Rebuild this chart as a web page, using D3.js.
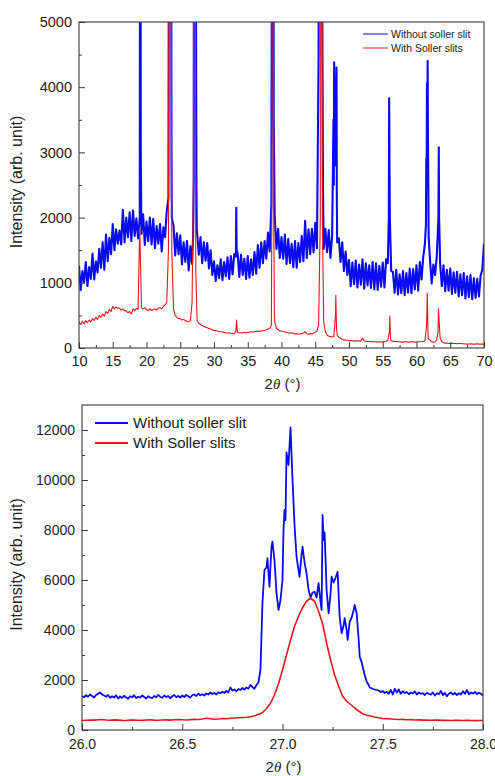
<!DOCTYPE html>
<html><head><meta charset="utf-8">
<script src="https://cdn.jsdelivr.net/npm/d3@7"></script>
<style>body{margin:0;background:#fff}</style>
</head><body><svg id="c" width="495" height="776"></svg>
<script>
// ---------------- DATA ----------------
const seriesNames = ["Without soller slit", "With Soller slits"];

// Top panel: full scan, grid start/step in 2θ (°)
const topStart = 10, topStep = 0.25;
const topBlue = [
 1260, 890, 1180, 1010, 1320, 950, 1240, 1060, 1450, 1050, 1330, 1160, 1520, 1230, 1620, 1200,
 1740, 1330, 1690, 1440, 1900, 1500, 1820, 1600, 1800, 1590, 2120, 1620, 2000, 1700, 2080, 1640,
 2110, 1720, 1990, 1680, 2000, 1750, 2050, 1580, 1940, 1640, 2000, 1590, 1980, 1530, 1870, 1600,
 1900, 1480, 1850, 1700, 2100, 2300, 30000, 2000, 1880, 1420, 1760, 1440, 1730, 1280, 1620, 1320,
 1640, 1190, 1560, 1290, 2600, 6000, 1760, 1430, 1700, 1300, 1620, 1340, 1610, 1220, 1500, 1120,
 1330, 1030, 1270, 1070, 1360, 1040, 1320, 1100, 1390, 1060, 1410, 1130, 1440, 1400, 1460, 1090,
 1430, 1120, 1370, 1060, 1410, 1080, 1360, 1120, 1470, 1140, 1580, 1230, 1620, 1300, 1640, 1370,
 1770, 1480, 2200, 15000, 2000, 1520, 1830, 1380, 1700, 1370, 1740, 1290, 1670, 1300, 1600, 1240,
 1640, 1230, 1610, 1320, 1720, 1330, 1950, 1380, 1820, 1440, 1830, 1470, 1920, 1530, 4500, 12000,
 8000, 1520, 1830, 1470, 1810, 1380, 1720, 2500, 3000, 1620, 1680, 1320, 1620, 1180, 1480, 1120,
 1350, 950, 1310, 980, 1340, 930, 1280, 970, 1360, 910, 1300, 960, 1270, 920, 1320, 900,
 1300, 890, 1260, 940, 1310, 930, 1360, 1300, 2800, 1180, 1170, 850, 1200, 820, 1130, 840,
 1180, 810, 1150, 850, 1220, 840, 1210, 900, 1270, 880, 1320, 1050, 1400, 1600, 2500, 2500,
 1360, 990, 1280, 1120, 1400, 2000, 1300, 950, 1270, 870, 1200, 880, 1220, 830, 1160, 850,
 1170, 790, 1130, 810, 1150, 760, 1100, 780, 1120, 750, 1070, 770, 1060, 790, 1110, 1200,
 1600
];
const topBlueExtra = [
 [19.05, 8000], [19.1, 9000], [19.15, 3000],
 [23.35, 9000], [23.4, 16000], [23.6, 16000], [23.65, 9000], [23.7, 3000],
 [26.9, 1700], [27.05, 12000], [27.1, 7000], [27.15, 8000], [27.2, 8600], [27.3, 6000], [27.35, 4500], [27.4, 2500], [27.45, 1800],
 [33.3, 2150], [33.35, 1500],
 [38.55, 5000], [38.65, 20000], [38.85, 3500],
 [45.6, 20000], [45.9, 20000], [46.05, 5000], [46.15, 2400],
 [47.6, 2600], [47.7, 3500], [47.8, 4380], [47.9, 2800], [48.05, 3200], [48.15, 4300], [48.2, 2200],
 [55.9, 2000], [55.95, 3830], [56.05, 2000],
 [61.4, 1900], [61.45, 2900], [61.55, 4060], [61.6, 3000], [61.65, 4400], [61.7, 3200], [61.8, 1700],
 [63.3, 3080], [63.35, 2000]
];
const topRed = [
 400, 360, 410, 370,  420, 390, 430, 400,  450, 420, 470, 440,  500, 470, 520, 490,
 560, 530, 590, 560,  640, 600, 630, 610,  610, 580, 600, 570,  570, 540, 560, 520,
 600, 570, 610, 590,  1850, 620, 600, 620, 590, 570, 600, 575,  590, 600, 580, 610,
 620, 600, 640, 660,  700, 1500, 20000, 1500, 600, 500, 470, 450, 450, 430, 440, 420,
 410, 400, 420, 700,  20000, 5000, 420, 380, 360, 340, 330, 320,  310, 300, 290, 280,
 270, 265, 260, 250,  250, 245, 240, 235,  230, 235, 225, 220,  220, 260, 240, 235,
 230, 235, 240, 230,  240, 245, 250, 245,  250, 255, 260, 255,  260, 265, 270, 280,
 290, 300, 350, 20000, 400, 300, 280, 260, 260, 250, 245, 240,  230, 235, 225, 230,
 215, 220, 210, 215,  220, 230, 250, 220,  210, 220, 215, 225,  240, 260, 350, 2000,
 8000, 400, 250, 200, 180, 175, 170, 180,  500, 200, 160, 150,  130, 125, 120, 120,
 110, 115, 110, 105,  105, 110, 110, 105,  150, 110, 100, 100,  100, 95, 100, 95,
 95, 90, 95, 90,      95, 100, 100, 120,   250, 110, 105, 100,  100, 95, 95, 90,
 90, 95, 95, 90,      90, 95, 95, 90,      90, 95, 95, 100,    100, 110, 350, 140,
 120, 100, 90, 95,    120, 600, 150, 100,  80, 75, 75, 70,     70, 72, 70, 68,
 65, 70, 68, 65,      65, 62, 60, 62,      65, 60, 62, 60,     65, 60, 62, 60,
 60
];
const topRedExtra = [
 [23.35, 8000], [23.4, 20000], [23.6, 20000], [23.65, 6000],
 [26.95, 2500], [27.2, 15000], [27.3, 1200],
 [33.35, 430], [33.45, 250],
 [38.6, 3000], [38.65, 20000], [38.85, 2000], [38.95, 500],
 [45.8, 20000], [45.95, 20000], [46.05, 2000],
 [48.05, 810], [48.15, 300],
 [56.05, 490], [56.15, 150],
 [61.6, 840], [61.7, 250],
 [63.2, 250]
];

// Bottom panel: zoom on the 27° reflection
const zoomBlueLeftStart = 26.00, zoomBlueStep = 0.01;
const zoomBlueLeft = [
 1360, 1310, 1390, 1330, 1420, 1360, 1300, 1400, 1450, 1500,
 1420, 1380, 1330, 1400, 1290, 1350, 1300, 1380, 1260, 1340,
 1280, 1370, 1300, 1250, 1350, 1310, 1390, 1280, 1330, 1300,
 1380, 1320, 1260, 1350, 1300, 1270, 1360, 1310, 1400, 1330,
 1290, 1380, 1320, 1360, 1270, 1350, 1400, 1310, 1360, 1300,
 1380, 1320, 1400, 1350, 1300, 1390, 1420, 1360, 1450, 1390,
 1430, 1380, 1460, 1420, 1500, 1440, 1480, 1420, 1510, 1470,
 1530, 1480, 1560, 1500, 1700, 1580, 1620, 1550, 1640, 1600,
 1680, 1620, 1700, 1650, 1800, 1720, 1650, 1800
];
const zoomBluePeak = [
 [26.88,1900],[26.89,2400],[26.90,5070],[26.91,6400],[26.92,6500],[26.925,6870],[26.935,5730],[26.945,7300],
 [26.95,7530],[26.96,6800],[26.97,5500],[26.98,4800],[26.99,5200],[27.00,6000],[27.005,8000],[27.01,8800],
 [27.015,8400],[27.02,11100],[27.03,10600],[27.04,12100],[27.05,10000],[27.06,8200],[27.07,6930],[27.08,6400],
 [27.085,6130],[27.095,7000],[27.10,7330],[27.11,6700],[27.12,6270],[27.13,5600],[27.14,5300],[27.15,5500],
 [27.16,5530],[27.17,5300],[27.18,5870],[27.19,5100],[27.195,4800],[27.20,8600],[27.205,7600],[27.21,7900],
 [27.22,5600],[27.23,4670],[27.24,5500],[27.245,6130],[27.255,5900],[27.265,6100],[27.275,6330],[27.28,5400],
 [27.285,4530],[27.295,3870],[27.305,4200],[27.31,4470],[27.32,4000],[27.325,3600],[27.335,4330],[27.345,4500],
 [27.355,4800],[27.36,5000],[27.37,4670],[27.38,3600],[27.385,2930],[27.395,2700],[27.40,2530],[27.41,2200],
 [27.42,1930],[27.43,1800],[27.435,1700],[27.45,1650],[27.46,1620],[27.47,1600]
];
const zoomBlueRightStart = 27.48;
const zoomBlueRight = [
 1580, 1520, 1560, 1480, 1530, 1450, 1600, 1420, 1650, 1500,
 1620, 1450, 1550, 1480, 1520, 1430, 1500, 1460, 1540, 1420,
 1500, 1450, 1470, 1400, 1490, 1440, 1420, 1500, 1380, 1470,
 1430, 1560, 1400, 1480, 1350, 1450, 1500, 1420, 1480, 1400,
 1470, 1420, 1550, 1450, 1600, 1430, 1500, 1460, 1520, 1440,
 1490, 1450, 1380
];
const zoomRedStart = 26.00, zoomRedStep = 0.02;
const zoomRed = [
 380, 390, 400, 395, 410, 420, 400, 390, 405, 395,
 385, 380, 395, 400, 390, 385, 400, 410, 395, 390,
 400, 405, 395, 410, 420, 410, 400, 415, 425, 420,
 440, 470, 450, 430, 440, 460, 450, 470, 480, 490,
 500, 510, 530, 570, 620, 700, 850, 1070, 1400, 1850,
 2400, 3000, 3600, 4150, 4550, 4900, 5150, 5270, 5150, 4750,
 4250, 3470, 2800, 2200, 1750, 1350, 1150, 1020, 880, 760,
 650, 590, 560, 520, 490, 460,
 450, 440, 430, 420, 425, 410, 415, 400, 405, 395,
 400, 390, 395, 400, 385, 390, 380, 385, 390, 380,
 385, 380, 375, 380, 380
];

const topXTicks = [10, 15, 20, 25, 30, 35, 40, 45, 50, 55, 60, 65, 70];
const topYTicks = [0, 1000, 2000, 3000, 4000, 5000];
const zoomXTicks = [26.0, 26.5, 27.0, 27.5, 28.0];
const zoomYTicks = [0, 2000, 4000, 6000, 8000, 10000, 12000];

// ---------------- HELPERS ----------------
const grid = (start, step, arr) => arr.map((v, i) => [+(start + i * step).toFixed(4), v]);
const merge = (...lists) => [].concat(...lists).sort((a, b) => a[0] - b[0]);

const svg = d3.select("#c");
const BLUE = "#0a0af5", RED = "#e3191c", FRAME = "#3a3a3a";
const FONT = "'Liberation Sans', Arial, sans-serif";

function panel(cfg) {
  const x = d3.scaleLinear().domain(cfg.xd).range([cfg.l, cfg.r]);
  const y = d3.scaleLinear().domain(cfg.yd).range([cfg.b, cfg.t]);
  const g = svg.append("g");
  const cid = "clip" + cfg.id;
  svg.append("clipPath").attr("id", cid).append("rect")
    .attr("x", cfg.l).attr("y", cfg.t).attr("width", cfg.r - cfg.l).attr("height", cfg.b - cfg.t);

  const line = d3.line().x(d => x(d[0])).y(d => y(d[1]));
  cfg.series.forEach(s => {
    g.append("path").attr("clip-path", `url(#${cid})`).datum(s.data)
      .attr("fill", "none").attr("stroke", s.color).attr("stroke-width", s.w)
      .attr("stroke-linejoin", "round").attr("d", line);
  });

  // minor ticks
  g.append("g").attr("transform", `translate(0,${cfg.b})`)
    .call(d3.axisBottom(x).tickValues(cfg.xMinor).tickSize(-3).tickSizeOuter(0).tickFormat(""))
    .call(a => a.select(".domain").remove()).selectAll("line").attr("stroke", FRAME);
  g.append("g").attr("transform", `translate(${cfg.l},0)`)
    .call(d3.axisLeft(y).tickValues(cfg.yMinor).tickSize(-3).tickSizeOuter(0).tickFormat(""))
    .call(a => a.select(".domain").remove()).selectAll("line").attr("stroke", FRAME);
  // major ticks
  const xa = g.append("g").attr("transform", `translate(0,${cfg.b})`)
    .call(d3.axisBottom(x).tickValues(cfg.xTicks).tickSize(-6).tickSizeOuter(0).tickPadding(cfg.xPad).tickFormat(cfg.xFmt))
    .call(a => a.select(".domain").remove());
  xa.selectAll("line").attr("stroke", FRAME);
  xa.selectAll("text").attr("font-family", FONT).attr("font-size", cfg.fs).attr("fill", "#222");
  const ya = g.append("g").attr("transform", `translate(${cfg.l},0)`)
    .call(d3.axisLeft(y).tickValues(cfg.yTicks).tickSize(-6).tickSizeOuter(0).tickPadding(cfg.yPad).tickFormat(d3.format("d")))
    .call(a => a.select(".domain").remove());
  ya.selectAll("line").attr("stroke", FRAME);
  ya.selectAll("text").attr("font-family", FONT).attr("font-size", cfg.fs).attr("fill", "#222");

  // frame
  g.append("rect").attr("x", cfg.l).attr("y", cfg.t).attr("width", cfg.r - cfg.l).attr("height", cfg.b - cfg.t)
    .attr("fill", "none").attr("stroke", FRAME).attr("stroke-width", 1.1);

  // axis titles
  const xt = g.append("text").attr("x", (cfg.l + cfg.r) / 2 + 1).attr("y", cfg.xTitleY)
    .attr("text-anchor", "middle").attr("font-family", FONT).attr("font-size", cfg.tfs).attr("fill", "#222");
  xt.append("tspan").text("2");
  xt.append("tspan").attr("font-family", "'Liberation Serif', serif").attr("font-style", "italic").text("θ");
  xt.append("tspan").text(" (°)");
  g.append("text").attr("transform", `translate(${cfg.yTitleX},${(cfg.t + cfg.b) / 2 - 3}) rotate(-90)`)
    .attr("text-anchor", "middle").attr("font-family", FONT).attr("font-size", 16).attr("fill", "#222")
    .text("Intensity (arb. unit)");

  // legend
  const lg = cfg.legend;
  cfg.series.forEach((s, i) => {
    const yy = lg.y + i * lg.dy;
    g.append("line").attr("x1", lg.x).attr("x2", lg.x + lg.len).attr("y1", yy).attr("y2", yy)
      .attr("stroke", s.color).attr("stroke-width", lg.w);
    g.append("text").attr("x", lg.x + lg.len + lg.gap).attr("y", yy).attr("dy", "0.35em")
      .attr("font-family", FONT).attr("font-size", lg.fs).attr("fill", "#222").text(seriesNames[i]);
  });
}

// ---------------- TOP PANEL ----------------
panel({
  id: "top", l: 79, r: 484, t: 22, b: 348, xd: [10, 70], yd: [0, 5000],
  xTicks: topXTicks, yTicks: topYTicks,
  xMinor: d3.range(12.5, 70, 5), yMinor: d3.range(500, 5000, 1000),
  xFmt: d3.format("d"), fs: 14.5, tfs: 15, xPad: 8, yPad: 7, xTitleY: 389, yTitleX: 22,
  series: [
    { data: merge(grid(topStart, topStep, topBlue), topBlueExtra), color: BLUE, w: 2.1 },
    { data: merge(grid(topStart, topStep, topRed), topRedExtra), color: RED, w: 1.1 }
  ],
  legend: { x: 363, y: 34, dy: 14, len: 25, gap: 3, fs: 10.5, w: 1 }
});

// ---------------- BOTTOM PANEL ----------------
panel({
  id: "zoom", l: 82, r: 483, t: 405, b: 730, xd: [26, 28], yd: [0, 13000],
  xTicks: zoomXTicks, yTicks: zoomYTicks,
  xMinor: [26.25, 26.75, 27.25, 27.75], yMinor: d3.range(1000, 13000, 2000),
  xFmt: d3.format(".1f"), fs: 14, tfs: 15, xPad: 9, yPad: 7, xTitleY: 772, yTitleX: 22,
  series: [
    { data: merge(grid(zoomBlueLeftStart, zoomBlueStep, zoomBlueLeft), zoomBluePeak,
                  grid(zoomBlueRightStart, zoomBlueStep, zoomBlueRight)), color: BLUE, w: 1.8 },
    { data: grid(zoomRedStart, zoomRedStep, zoomRed), color: RED, w: 1.6 }
  ],
  legend: { x: 95, y: 423, dy: 20, len: 33, gap: 5, fs: 15, w: 1.8 }
});
</script>
</body></html>
